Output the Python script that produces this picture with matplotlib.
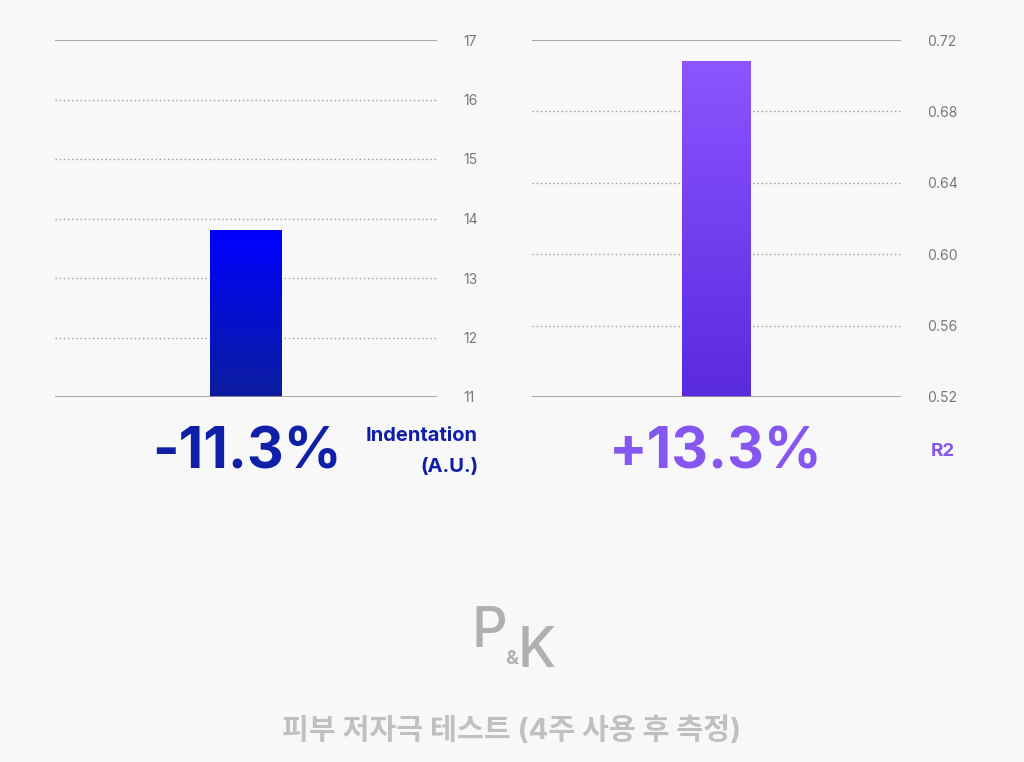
import numpy as np
import matplotlib.pyplot as plt
from matplotlib.colors import LinearSegmentedColormap

plt.rcParams['font.family'] = ['Inter', 'Noto Sans CJK KR', 'DejaVu Sans']

# dados
left_vals = [13.8]
left_ticks = [11, 12, 13, 14, 15, 16, 17]
right_vals = [0.708]
right_ticks = [0.52, 0.56, 0.60, 0.64, 0.68, 0.72]
left_change = '-11.3%'
right_change = '+13.3%'
right_label = 'R2'
titulo = '피부 저자극 테스트 (4주 사용 후 측정)'

bg = '#f8f8f8'
fig = plt.figure(figsize=(10.24, 7.62), dpi=100, facecolor=bg)


def painel(rect, vals, ticks, c_top, c_bot, fmt):
    ax = fig.add_axes(rect, facecolor=bg)
    for t in ticks[1:-1]:
        ax.axhline(t, color='#999999', lw=1, ls=(0, (1, 2)), zorder=1)
    ax.axhline(ticks[0], color='#999999', lw=1.2, zorder=3)
    ax.axhline(ticks[-1], color='#999999', lw=1.2, zorder=1)
    bars = ax.bar([0], vals, width=0.186, bottom=0, color='none', zorder=2)
    cmap = LinearSegmentedColormap.from_list('g', [c_bot, c_top])
    grad = np.linspace(0, 1, 256).reshape(-1, 1)
    for b in bars:
        im = ax.imshow(grad, cmap=cmap, origin='lower', aspect='auto',
                       extent=[b.get_x(), b.get_x() + b.get_width(), ticks[0], b.get_height()],
                       zorder=2)
        im.set_clip_path(b)
    ax.set_xlim(-0.5, 0.5)
    ax.set_ylim(ticks[0], ticks[-1])
    ax.set_xticks([])
    ax.set_yticks(ticks)
    ax.set_yticklabels([fmt(t) for t in ticks])
    ax.yaxis.tick_right()
    ax.tick_params(axis='y', length=0, pad=19, labelsize=10, labelcolor='#777777')
    for s in ax.spines.values():
        s.set_visible(False)
    return ax


ax1 = painel([55 / 1024, 1 - 397 / 762, 382 / 1024, 357 / 762], left_vals, left_ticks,
             '#0000ff', '#0c1e9e', lambda t: f'{t}')
ax2 = painel([532 / 1024, 1 - 397 / 762, 369 / 1024, 357 / 762], right_vals, right_ticks,
             '#8b55ff', '#5a2ae0', lambda t: f'{t:.2f}')

fig.text(247 / 1024, 1 - 453 / 762, left_change, ha='center', va='center',
         fontsize=41, fontweight='bold', color='#0f1fa8')
fig.text(716 / 1024, 1 - 453 / 762, right_change, ha='center', va='center',
         fontsize=41, fontweight='bold', color='#8656f0')
fig.text(478 / 1024, 1 - 436 / 762, 'Indentation', ha='right', va='center',
         fontsize=14.5, fontweight='bold', color='#0f1fa8')
fig.text(478 / 1024, 1 - 467 / 762, '(A.U.)', ha='right', va='center',
         fontsize=14.5, fontweight='bold', color='#0f1fa8')
fig.text(943 / 1024, 1 - 451 / 762, right_label, ha='center', va='center',
         fontsize=13.5, fontweight='bold', color='#8656f0')

# logo
fig.text(472 / 1024, 1 - 632 / 762, 'P', ha='left', va='center',
         fontsize=40, color='#b0b0b0', fontweight='medium')
fig.text(505 / 1024, 1 - 659 / 762, '&', ha='left', va='center',
         fontsize=14, color='#b0b0b0', fontweight='bold')
fig.text(517 / 1024, 1 - 652 / 762, 'K', ha='left', va='center',
         fontsize=40, color='#b0b0b0', fontweight='medium')

fig.text(512 / 1024, 1 - 731 / 762, titulo, ha='center', va='center',
         fontsize=21, fontweight='bold', color='#c0c0c0')

plt.savefig('out.png', dpi=100, facecolor=bg)
